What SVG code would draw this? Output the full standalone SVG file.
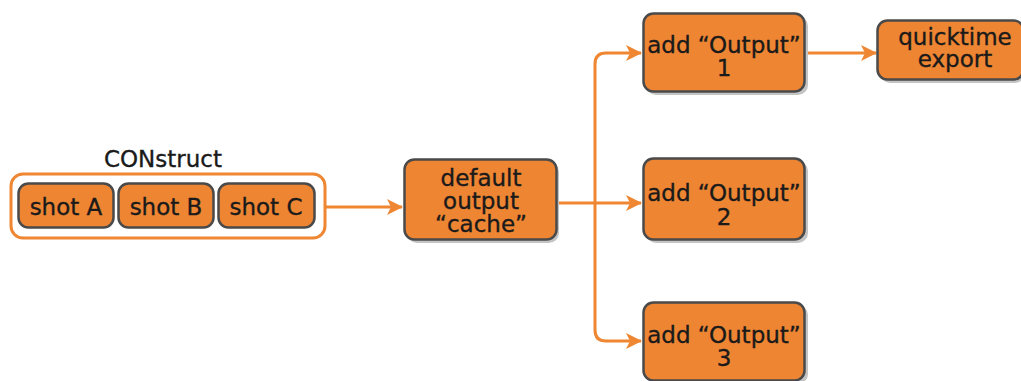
<svg xmlns="http://www.w3.org/2000/svg" width="1021" height="381" viewBox="0 0 1021 381">
<style>
.box{fill:#ee8533;stroke:#4a4a4a;stroke-width:2.5}
.sh{fill:#c4c4c4}
.t{font-family:"DejaVu Sans",Verdana,sans-serif;font-size:23px;fill:#1a1a1a;stroke:#1a1a1a;stroke-width:0.35;text-anchor:middle}
.c{fill:none;stroke:#ef8632;stroke-width:3}
</style>
<defs>
<marker id="ah" markerWidth="16" markerHeight="16" refX="15" refY="8" orient="auto" markerUnits="userSpaceOnUse">
<path d="M0,0 L16,8 L0,16 L4,8 Z" fill="#ef8632"/>
</marker>
</defs>
<rect width="1021" height="381" fill="#fff"/>
<g id="connectors">
<path class="c" d="M326,207 L402,207" marker-end="url(#ah)"/>
<path class="c" d="M557,203 L641,203" marker-end="url(#ah)"/>
<path class="c" d="M595,203 L595,64 Q595,53 606,53 L641,53" marker-end="url(#ah)"/>
<path class="c" d="M595,203 L595,330 Q595,341 606,341 L641,341" marker-end="url(#ah)"/>
<path class="c" d="M806,53 L876,53" marker-end="url(#ah)"/>
</g>
<g id="construct">
<rect x="11" y="174" width="314" height="64" rx="12" fill="#fff" stroke="#ef8632" stroke-width="3"/>
<text class="t" x="163" y="167" font-size="22">CONstruct</text>
</g>
<g id="shotA">
<rect class="box" x="18.5" y="183.5" width="95" height="44" rx="10"/>
<text class="t" x="66" y="215" font-size="22">shot A</text>
</g>
<g id="shotB">
<rect class="box" x="118.5" y="183.5" width="95" height="44" rx="10"/>
<text class="t" x="166" y="215" font-size="22">shot B</text>
</g>
<g id="shotC">
<rect class="box" x="218.5" y="183.5" width="96" height="44" rx="10"/>
<text class="t" x="266" y="215" font-size="22">shot C</text>
</g>
<g id="default">
<rect class="sh" x="407" y="162" width="152" height="81" rx="10"/>
<rect class="box" x="404.5" y="159.5" width="152" height="80" rx="10"/>
<text class="t" x="481" y="186">default</text>
<text class="t" x="481" y="209">output</text>
<text class="t" x="481" y="232">“cache”</text>
</g>
<g id="out1">
<rect class="sh" x="646" y="16" width="162" height="79" rx="10"/>
<rect class="box" x="643.5" y="13.5" width="161" height="78" rx="10"/>
<text class="t" x="724" y="53">add “Output”</text>
<text class="t" x="724" y="76">1</text>
</g>
<g id="out2">
<rect class="sh" x="646" y="161" width="162" height="82" rx="10"/>
<rect class="box" x="643.5" y="158.5" width="161" height="81" rx="10"/>
<text class="t" x="724" y="201">add “Output”</text>
<text class="t" x="724" y="225">2</text>
</g>
<g id="out3">
<rect class="sh" x="646" y="305" width="162" height="79" rx="10"/>
<rect class="box" x="643.5" y="302.5" width="161" height="78" rx="10"/>
<text class="t" x="724" y="343">add “Output”</text>
<text class="t" x="724" y="366">3</text>
</g>
<g id="quicktime">
<rect class="sh" x="880" y="23" width="145" height="60" rx="10"/>
<rect class="box" x="877.5" y="20.5" width="146" height="59" rx="10"/>
<text class="t" x="955" y="45" font-size="22">quicktime</text>
<text class="t" x="955" y="67" font-size="20">export</text>
</g>
</svg>
